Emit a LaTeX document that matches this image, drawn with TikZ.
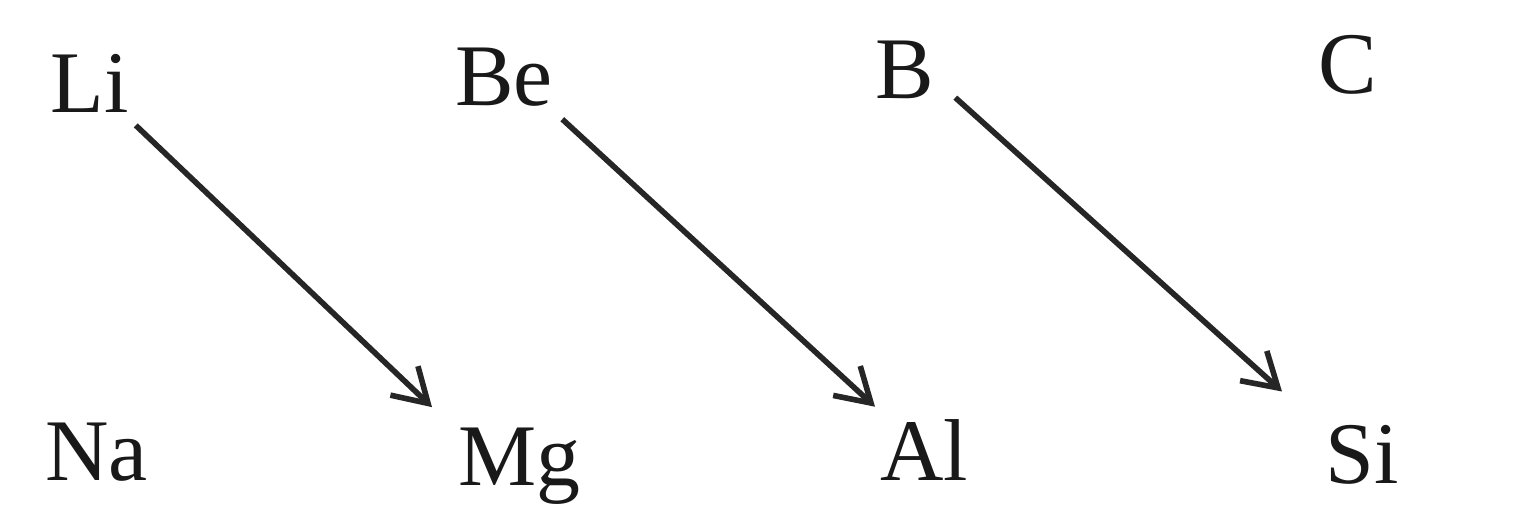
\documentclass[tikz,border=0pt]{standalone}
\usepackage{fontspec}
\setmainfont{Liberation Serif}
\usepackage{tikz}
\usetikzlibrary{arrows.meta}
\usetikzlibrary{calc}

\begin{document}
\begin{tikzpicture}[x=0.02cm, y=-0.02cm, element/.style={inner sep=0pt, anchor=base west, text=black!90, font=\fontsize{50}{60}\selectfont}, arrow/.style={line width=3.2pt, draw=black!85, -{Straight Barb[length=6.6mm, width=8mm, line width=3.2pt]}}]
\useasboundingbox (0,0) rectangle (1534,515);
% top row
\node [element] (Li) at (50,112) {Li};
\node [element] (Be) at (455,105) {Be};
\node [element] (B) at (875,98) {B};
\node [element] (C) at (1318,93) {C};
% bottom row
\node [element] (Na) at (45,480) {Na};
\node [element] (Mg) at (458,485) {Mg};
\node [element] (Al) at (880,480) {Al};
\node [element] (Si) at (1325,483) {Si};
% diagonal relationships
\draw [arrow] ($(Li.south east)+(7,13)$) -- ($(Mg.north west)+(-26,-20)$);
\draw [arrow] ($(Be.south east)+(9,13)$) -- ($(Al.north west)+(-5,-12)$);
\draw [arrow] ($(B.south east)+(21,-1)$) -- ($(Si.north west)+(-43,-33)$);
\end{tikzpicture}
\end{document}
